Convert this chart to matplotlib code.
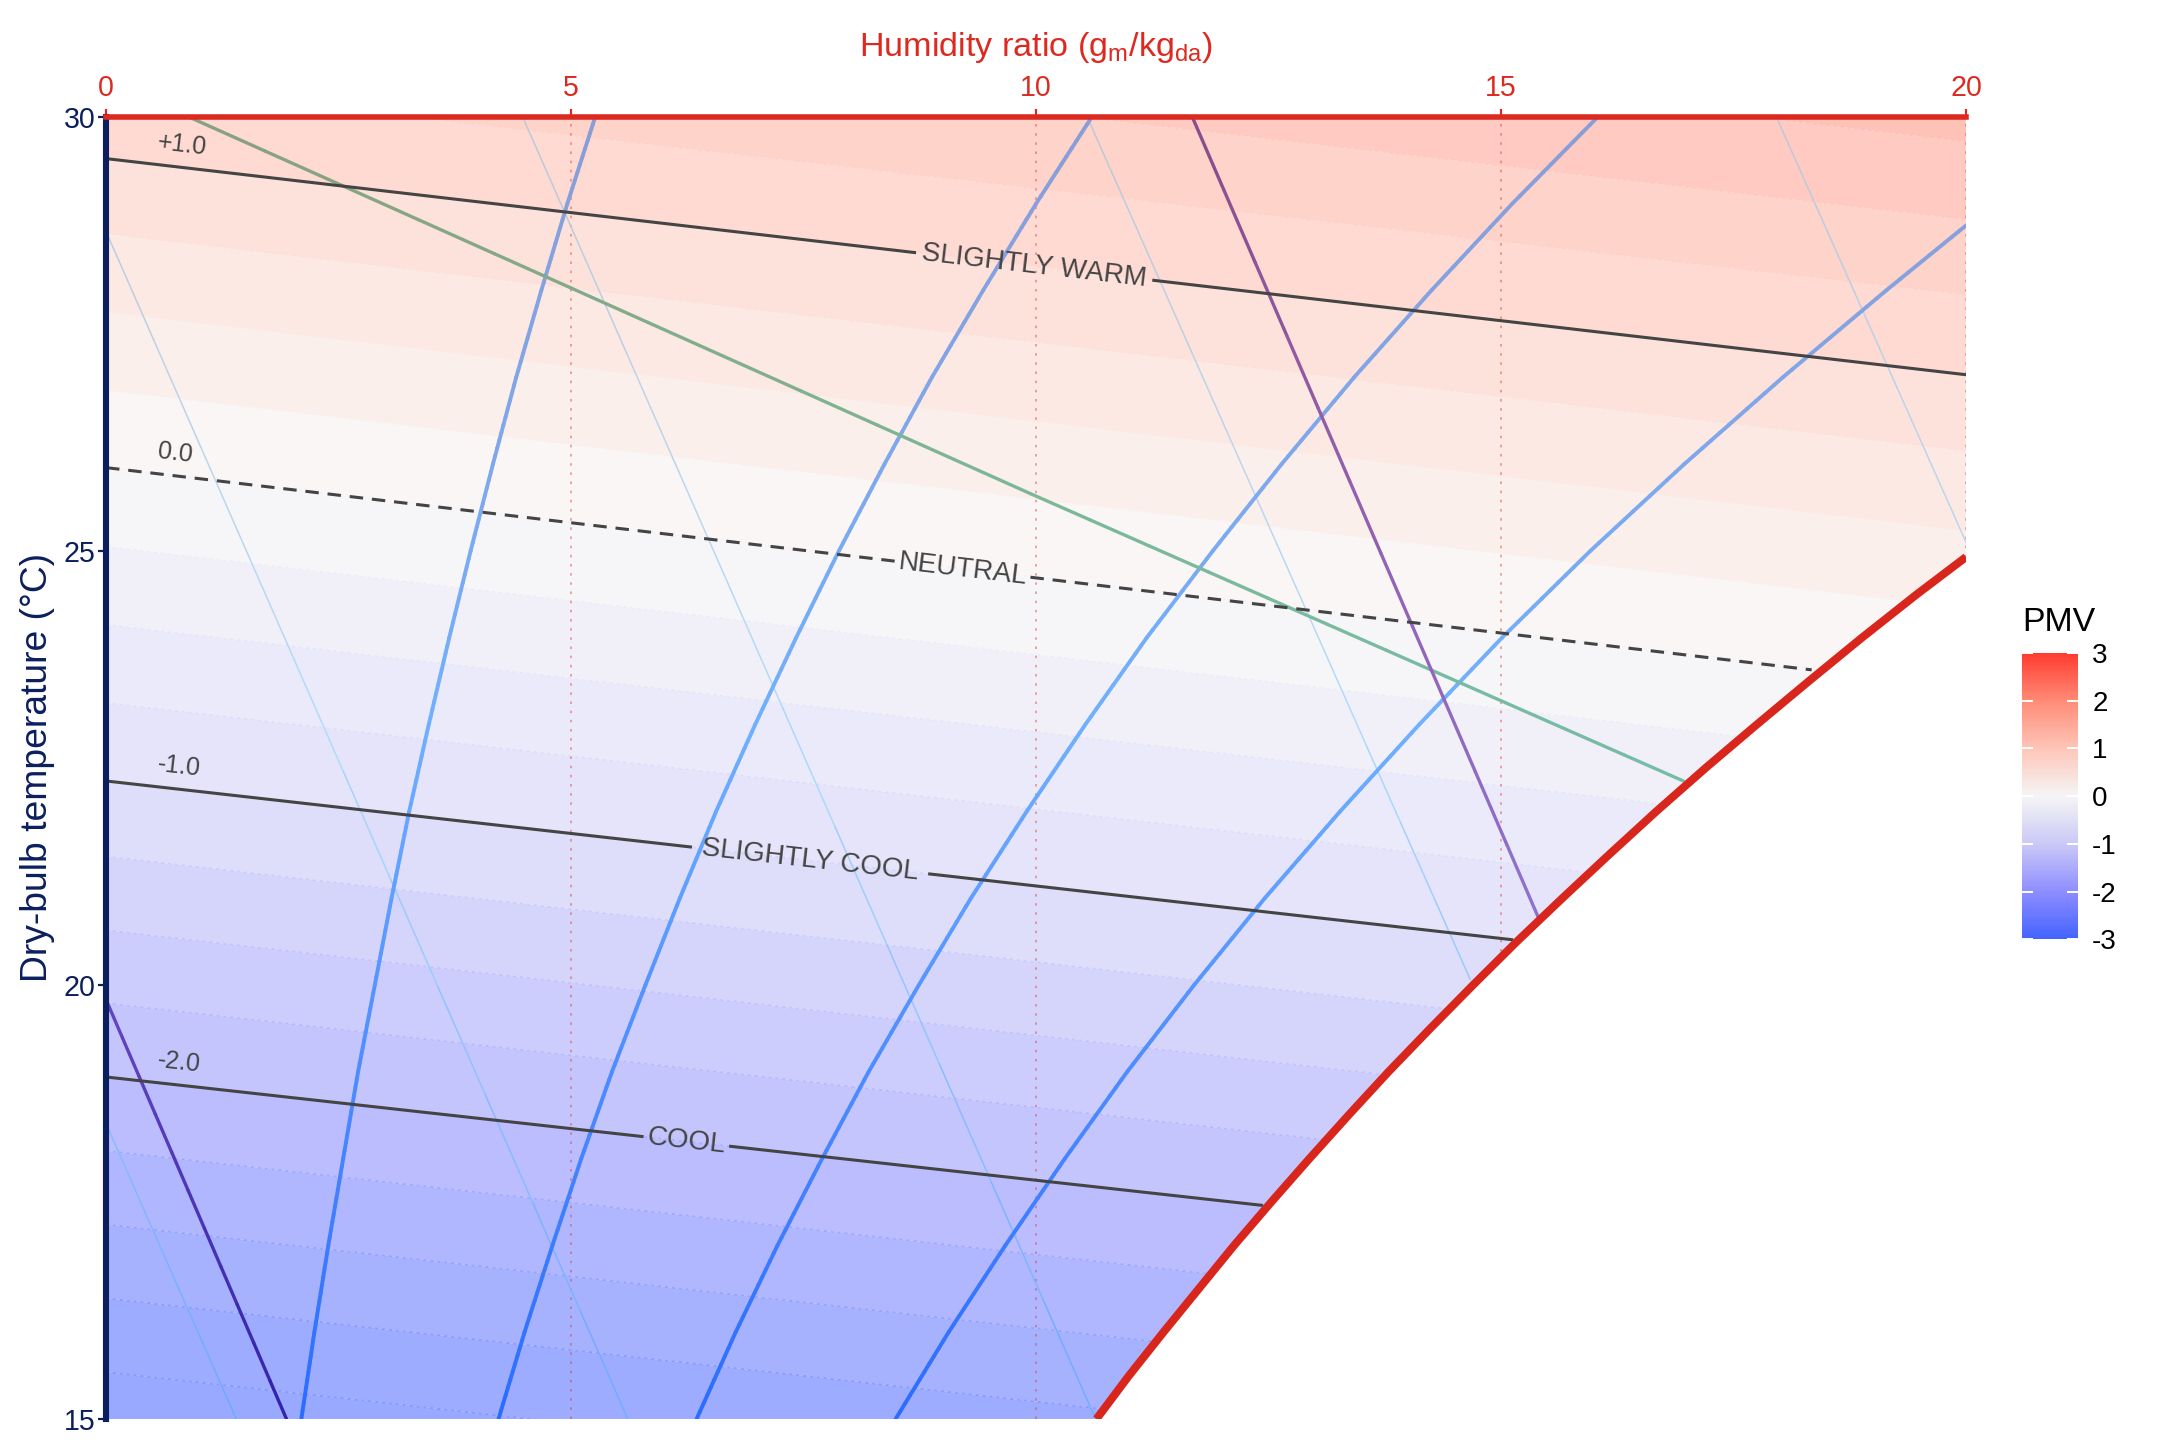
import matplotlib
matplotlib.use("Agg")
import matplotlib.pyplot as plt
import numpy as np
from matplotlib.collections import LineCollection
from matplotlib.colors import LinearSegmentedColormap, Normalize
from matplotlib.cm import ScalarMappable
from matplotlib.patches import Polygon

plt.rcParams['font.family'] = ['Liberation Sans', 'DejaVu Sans']
plt.rcParams['axes.unicode_minus'] = False

# saturation curve: humidity ratio (g/kg) against dry-bulb (°C)
sat_w = [10.65, 11.00, 11.37, 11.75, 12.13, 12.53, 12.94, 13.36, 13.79, 14.24, 14.70,
         15.17, 15.66, 16.16, 16.67, 17.20, 17.75, 18.31, 18.88, 19.47, 20.0]
sat_t = [15, 15.5, 16, 16.5, 17, 17.5, 18, 18.5, 19, 19.5, 20,
         20.5, 21, 21.5, 22, 22.5, 23, 23.5, 24, 24.5, 24.93]

# relative humidity curves (20, 40, 60, 80 %)
rh_t = [15, 16, 17, 18, 19, 20, 21, 22, 23, 24, 25, 26, 27, 28, 29, 30]
rh20_w = [2.10, 2.24, 2.39, 2.55, 2.71, 2.89, 3.07, 3.26, 3.47, 3.69, 3.92, 4.16, 4.41, 4.68, 4.96, 5.26]
rh40_w = [4.22, 4.50, 4.80, 5.11, 5.44, 5.80, 6.17, 6.56, 6.98, 7.42, 7.88, 8.37, 8.88, 9.43, 10.00, 10.60]
rh60_w = [6.35, 6.77, 7.22, 7.70, 8.20, 8.74, 9.30, 9.90, 10.53, 11.19, 11.90, 12.64, 13.42, 14.25, 15.12, 16.04]
rh80_w = [8.49, 9.06, 9.67, 10.31, 10.98, 11.70, 12.46, 13.27, 14.12, 15.01, 15.96, 16.97, 18.03, 19.14, 20.0]
rh80_t = [15, 16, 17, 18, 19, 20, 21, 22, 23, 24, 25, 26, 27, 28, 28.75]

# thin light lines running down to the right (start / end points)
thin_w0 = [0.0, 0.0, 4.48, 10.55, 17.96]
thin_t0 = [18.40, 28.68, 30.0, 30.0, 30.0]
thin_w1 = [1.40, 5.61, 10.64, 14.67, 20.0]
thin_t1 = [15.0, 15.0, 15.0, 20.06, 25.10]

# other guide lines
green_w = [0.89, 9.94, 16.96]
green_t = [30.0, 25.66, 22.35]
purple_w = [11.68, 15.40]
purple_t = [30.0, 20.78]
indigo_w = [0.0, 1.94]
indigo_t = [19.83, 15.0]

# PMV band boundaries: temperature at W=0 and at W=20
band_pmv = [-3.25, -3.0, -2.75, -2.5, -2.25, -2.0, -1.75, -1.5, -1.25, -1.0, -0.75,
            -0.5, -0.25, 0.0, 0.25, 0.5, 0.75, 1.0, 1.25, 1.5, 1.75, 2.0]
band_t_w0 = [14.70, 15.54, 16.39, 17.24, 18.09, 18.94, 19.79, 20.63, 21.48, 22.35, 23.25,
             24.15, 25.05, 25.96, 26.85, 27.75, 28.65, 29.52, 30.40, 31.30, 32.20, 33.10]
band_t_w20 = [12.35, 13.17, 14.01, 14.85, 15.70, 16.56, 17.39, 18.21, 19.05, 19.93, 20.80,
              21.68, 22.56, 23.44, 24.34, 25.23, 26.15, 27.03, 27.95, 28.82, 29.72, 30.60]

# labelled PMV lines
pmv_levels = [1.0, 0.0, -1.0, -2.0]
pmv_names = ["SLIGHTLY WARM", "NEUTRAL", "SLIGHTLY COOL", "COOL"]
pmv_t_start = [29.52, 25.96, 22.35, 18.94]
pmv_w_end = [20.0, 18.34, 15.13, 12.44]
pmv_t_end = [27.03, 23.63, 20.52, 17.46]
pmv_label_w = [9.98, 9.21, 7.57, 6.24]

x_ticks = [0, 5, 10, 15, 20]
y_ticks = [15, 20, 25, 30]
cbar_ticks = [-3, -2, -1, 0, 1, 2, 3]

RED = '#dc2a20'
NAVY = '#0b1f5e'
INK = '#444444'

pmv_cmap = LinearSegmentedColormap.from_list('pmv', [
    (0 / 6, '#4463ff'), (1 / 6, '#8e8eff'), (2 / 6, '#cbc9f6'), (3 / 6, '#f5f5f5'),
    (4 / 6, '#fec5b8'), (5 / 6, '#ff8b76'), (6 / 6, '#ff3b2f')])
norm = Normalize(-3, 3)


def gradient_line(ax, w, t, stops, lw, clip, zorder):
    # colour shifts along the line with temperature
    cm = LinearSegmentedColormap.from_list('', [((s - 15) / 15, c) for s, c in stops])
    segs, cols = [], []
    for i in range(len(w) - 1):
        ww = np.linspace(w[i], w[i + 1], 12)
        tt = np.linspace(t[i], t[i + 1], 12)
        for j in range(11):
            segs.append([(ww[j], tt[j]), (ww[j + 1], tt[j + 1])])
            cols.append(cm(((tt[j] + tt[j + 1]) / 2 - 15) / 15))
    lc = LineCollection(segs, colors=cols, linewidths=lw, capstyle='round', zorder=zorder)
    ax.add_collection(lc)
    lc.set_clip_path(clip)


fig = plt.figure(figsize=(10.8, 7.2), dpi=200)
ax = fig.add_axes([0.0491, 0.0146, 0.8611, 0.9042])
ax.set_xlim(0, 20)
ax.set_ylim(15, 30)

region = Polygon([(0, 15)] + list(zip(sat_w, sat_t)) + [(20, 30), (0, 30)],
                 closed=True, facecolor='none', edgecolor='none')
ax.add_patch(region)

# PMV bands
for i in range(len(band_pmv) - 1):
    mid = (band_pmv[i] + band_pmv[i + 1]) / 2
    p = Polygon([(0, band_t_w0[i]), (20, band_t_w20[i]), (20, band_t_w20[i + 1]), (0, band_t_w0[i + 1])],
                closed=True, facecolor=pmv_cmap(norm(mid)), edgecolor='none', alpha=0.55, zorder=0)
    ax.add_patch(p)
    p.set_clip_path(region)
for lev, a, b in zip(band_pmv, band_t_w0, band_t_w20):
    ln, = ax.plot([0, 20], [a, b], color=pmv_cmap(norm(lev - 0.3)), lw=0.5, alpha=0.35,
                  dashes=(2, 3), zorder=0.5)
    ln.set_clip_path(region)

# vertical dotted grid
for xv in x_ticks[1:]:
    ln, = ax.plot([xv, xv], [15, 30], color='#dd3333', alpha=0.5, lw=0.6, dashes=(1.5, 4), zorder=1)
    ln.set_clip_path(region)

thin_stops = [(15, '#6fa8ff'), (19, '#8ec0ff'), (23, '#b0dcfa'), (26, '#bcd6ec'), (30, '#bcc8d8')]
for w0, t0, w1, t1 in zip(thin_w0, thin_t0, thin_w1, thin_t1):
    gradient_line(ax, [w0, w1], [t0, t1], thin_stops, 0.55, region, 2)

rh_stops = [(15, '#2a6cff'), (19, '#4d8cff'), (23, '#70b0ff'), (26, '#7ea8ec'), (30, '#8a9dd6')]
for w in (rh20_w, rh40_w, rh60_w):
    gradient_line(ax, w, rh_t, rh_stops, 1.4, region, 3)
gradient_line(ax, rh80_w, rh80_t, rh_stops, 1.4, region, 3)

gradient_line(ax, green_w, green_t, [(15, '#70c0b0'), (22.3, '#76bca8'), (25.6, '#7cb898'),
                                     (28, '#84aa88'), (30, '#88a080')], 1.2, region, 3)
gradient_line(ax, purple_w, purple_t, [(15, '#8878d8'), (20.8, '#8d72cc'), (25, '#9462b4'),
                                       (30, '#8a4c88')], 1.2, region, 3)
gradient_line(ax, indigo_w, indigo_t, [(15, '#3322aa'), (20, '#6648c0'), (30, '#6648c0')],
              1.2, region, 3)

# PMV iso-lines with labels
for lev, name, t0, w1, t1, wl in zip(pmv_levels, pmv_names, pmv_t_start, pmv_w_end, pmv_t_end, pmv_label_w):
    slope = (t1 - t0) / w1
    p0 = ax.transData.transform((0, t0))
    p1 = ax.transData.transform((w1, t1))
    ang = np.degrees(np.arctan2(p1[1] - p0[1], p1[0] - p0[0]))
    half = 0.09 * len(name) + 0.1
    kw = dict(color=INK, lw=1.1, zorder=4, solid_capstyle='butt')
    if lev == 0:
        kw['dashes'] = (4.4, 2.9)
    ax.plot([0, wl - half], [t0, t0 + slope * (wl - half)], **kw)
    ax.plot([wl + half, w1], [t0 + slope * (wl + half), t1], **kw)
    ax.text(wl, t0 + slope * wl, name, rotation=ang, rotation_mode='anchor',
            ha='center', va='center', fontsize=10, color=INK, zorder=5)
    num = '+%.1f' % lev if lev > 0 else '%.1f' % lev
    ax.text(0.54, t0 + slope * 0.54 + 0.12, num, rotation=ang, rotation_mode='anchor',
            ha='left', va='bottom', fontsize=9, color=INK, zorder=5)

# saturation curve
ax.plot(sat_w, sat_t, color='#d8261c', lw=2.9, zorder=6, solid_capstyle='butt')

# axes styling
for s in ('bottom', 'right'):
    ax.spines[s].set_visible(False)
ax.spines['top'].set_color(RED)
ax.spines['top'].set_linewidth(2.0)
ax.spines['left'].set_color(NAVY)
ax.spines['left'].set_linewidth(2.2)
ax.spines['top'].set_zorder(7)
ax.spines['left'].set_zorder(7)
ax.set_facecolor('white')

ax.xaxis.set_ticks_position('top')
ax.xaxis.set_label_position('top')
ax.set_xticks(x_ticks)
ax.set_yticks(y_ticks)
ax.tick_params(axis='x', colors=RED, labelsize=10.3, length=2.8, width=0.8, pad=2.5)
ax.tick_params(axis='y', colors=NAVY, labelsize=10.3, length=2.8, width=0.8, pad=1)
ax.set_xlabel(r'Humidity ratio (g$_\mathregular{m}$/kg$_\mathregular{da}$)', color=RED,
              fontsize=12.3, labelpad=6.5)
ax.set_ylabel('Dry-bulb temperature (°C)', color=NAVY, fontsize=13.4, labelpad=3)

# colour bar
cax = fig.add_axes([0.936, 0.3477, 0.0262, 0.199])
cb = fig.colorbar(ScalarMappable(norm=norm, cmap=pmv_cmap), cax=cax, ticks=cbar_ticks)
cb.outline.set_visible(False)
cax.tick_params(direction='in', color='white', length=4, width=0.7, labelsize=10,
                left=True, right=True, pad=5)
cax.set_title('PMV', fontsize=12.2, loc='left', pad=8)

fig.savefig('out.png', dpi=200, facecolor='white')
